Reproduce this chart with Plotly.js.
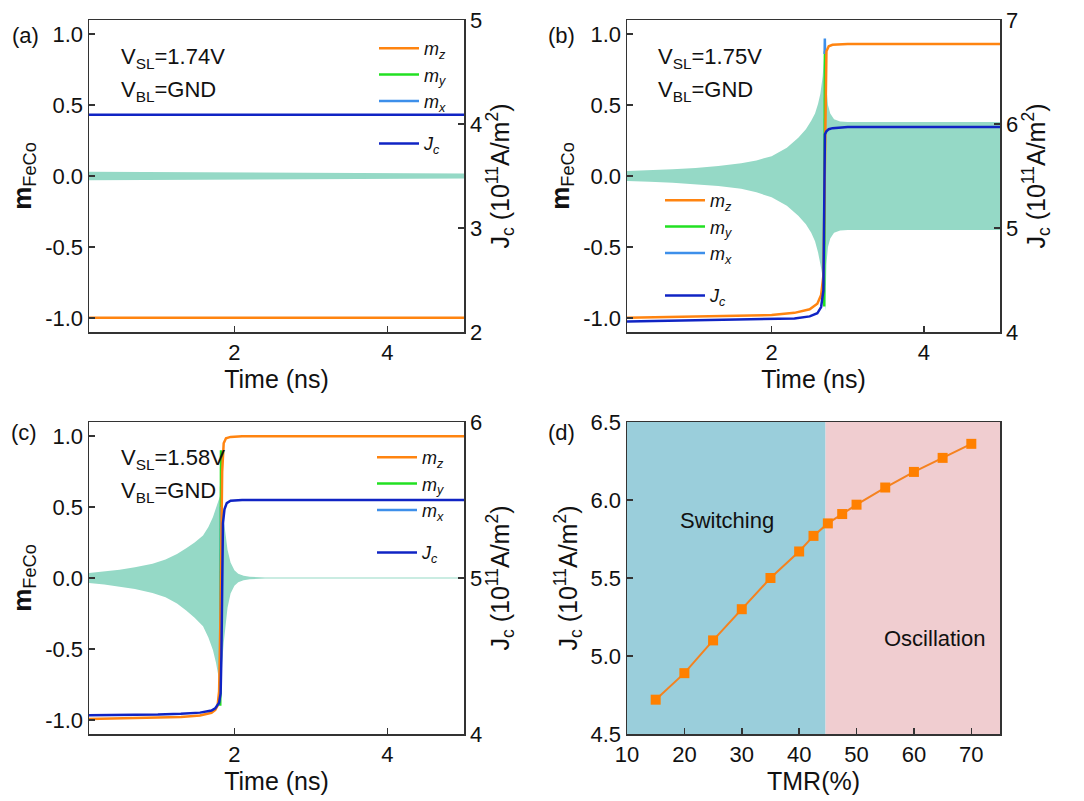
<!DOCTYPE html>
<html>
<head>
<meta charset="utf-8">
<script src="https://cdn.plot.ly/plotly-3.0.1.min.js"></script>
<style>
html,body{margin:0;padding:0;background:#fff;}
#chart{width:1084px;height:801px;}
</style>
</head>
<body>
<div id="chart"></div>
<script>
// ---------- DATA ----------
// Panel (a): V_SL = 1.74 V (no switching)
const aTime = [0.1, 5.0];
const aMz = [-1.0, -1.0];
const aJc = [4.09, 4.09];
const aMy = [0.0, 0.0];
const aMx = [0.0, 0.0];
const aEnvT = [0.1, 1.0, 2.0, 3.0, 4.0, 5.0];
const aEnvUp = [0.03, 0.028, 0.025, 0.022, 0.02, 0.018];
const aEnvLo = [-0.03, -0.028, -0.025, -0.022, -0.02, -0.018];

// Panel (b): V_SL = 1.75 V (switch then oscillation)
const bTime = [0.1, 0.5, 1.0, 1.5, 2.0, 2.3, 2.5, 2.6, 2.65, 2.68, 2.7, 2.72, 2.75, 2.8, 3.0, 4.0, 5.0];
const bMz = [-1.0, -0.995, -0.99, -0.985, -0.98, -0.965, -0.94, -0.9, -0.84, -0.7, 0.1, 0.88, 0.915, 0.925, 0.93, 0.93, 0.93];
const bJc = [4.10, 4.105, 4.11, 4.115, 4.12, 4.13, 4.15, 4.18, 4.24, 4.4, 5.9, 5.93, 5.95, 5.96, 5.97, 5.97, 5.97];
const bEnvT = [0.1, 0.4, 0.7, 1.0, 1.3, 1.6, 1.8, 2.0, 2.2, 2.35, 2.45, 2.52, 2.57, 2.61, 2.64, 2.67, 2.69, 2.705, 2.72, 2.74, 2.77, 2.82, 2.9, 3.0, 5.0];
const bEnvUp = [0.035, 0.04, 0.047, 0.056, 0.07, 0.09, 0.11, 0.14, 0.2, 0.27, 0.33, 0.39, 0.44, 0.51, 0.58, 0.7, 0.82, 0.95, 0.62, 0.5, 0.44, 0.4, 0.385, 0.38, 0.38];
const bEnvLo = [-0.035, -0.04, -0.047, -0.056, -0.07, -0.09, -0.115, -0.15, -0.21, -0.28, -0.34, -0.4, -0.46, -0.54, -0.62, -0.71, -0.85, -0.95, -0.62, -0.5, -0.44, -0.4, -0.385, -0.38, -0.38];
const bMyT = [2.69, 2.695, 2.70];
const bMy = [-0.92, 0.3, 0.88];
const bMxT = [2.696, 2.699, 2.702];
const bMx = [0.86, 0.97, 0.86];

// Panel (c): V_SL = 1.58 V (switching)
const cTime = [0.1, 0.5, 1.0, 1.3, 1.55, 1.7, 1.75, 1.78, 1.8, 1.82, 1.84, 1.86, 1.89, 1.95, 2.1, 3.0, 5.0];
const cMz = [-0.995, -0.99, -0.985, -0.98, -0.97, -0.95, -0.93, -0.9, -0.8, -0.2, 0.75, 0.95, 0.985, 0.995, 1.0, 1.0, 1.0];
const cJcT = [0.1, 0.5, 1.0, 1.3, 1.55, 1.7, 1.75, 1.8, 1.82, 1.83, 1.84, 1.85, 1.87, 1.9, 1.95, 2.1, 3.0, 5.0];
const cJc = [4.12, 4.121, 4.125, 4.13, 4.137, 4.15, 4.165, 4.2, 4.26, 4.5, 5.0, 5.35, 5.44, 5.48, 5.495, 5.5, 5.5, 5.5];
const cEnvT = [0.1, 0.3, 0.5, 0.7, 0.93, 1.1, 1.25, 1.37, 1.48, 1.59, 1.66, 1.72, 1.76, 1.8, 1.825, 1.84, 1.86, 1.88, 1.91, 1.95, 2.0, 2.05, 2.12, 2.2, 2.4, 5.0];
const cEnvUp = [0.035, 0.045, 0.058, 0.075, 0.1, 0.13, 0.17, 0.21, 0.25, 0.3, 0.36, 0.43, 0.49, 0.55, 0.6, 0.5, 0.42, 0.32, 0.2, 0.11, 0.055, 0.03, 0.015, 0.008, 0.004, 0.004];
const cEnvLo = [-0.035, -0.046, -0.06, -0.078, -0.105, -0.135, -0.18, -0.23, -0.28, -0.34, -0.42, -0.51, -0.6, -0.72, -0.88, -0.6, -0.46, -0.34, -0.21, -0.11, -0.055, -0.03, -0.015, -0.008, -0.004, -0.004];
const cMyT = [1.815, 1.82, 1.825];
const cMy = [-0.9, 0.2, 0.9];
const cMxT = [1.818, 1.822, 1.826];
const cMx = [-0.6, 0.0, 0.5];

// Panel (d): Jc vs TMR
const tmr = [15, 20, 25, 30, 35, 40, 42.5, 45, 47.5, 50, 55, 60, 65, 70];
const jcTmr = [4.72, 4.89, 5.10, 5.30, 5.50, 5.67, 5.77, 5.85, 5.91, 5.97, 6.08, 6.18, 6.27, 6.36];
const regionSplit = 44.6;
const regionNames = ["Switching", "Oscillation"];

// tick labels
const mTickVals = [-1, -0.5, 0, 0.5, 1];
const mTickText = ["-1.0", "-0.5", "0.0", "0.5", "1.0"];
const tTickVals = [2, 4];
const dYTickVals = [4.5, 5.0, 5.5, 6.0, 6.5];
const dYTickText = ["4.5", "5.0", "5.5", "6.0", "6.5"];
const dXTickVals = [10, 20, 30, 40, 50, 60, 70];

const panelLabels = ["(a)", "(b)", "(c)", "(d)"];
const vslLabels = ["V<sub>SL</sub>=1.74V", "V<sub>SL</sub>=1.75V", "V<sub>SL</sub>=1.58V"];
const vblLabel = "V<sub>BL</sub>=GND";

// ---------- STYLE ----------
const FONT = "Liberation Sans, Arial, sans-serif";
const C_MZ = "#FF8410", C_MY = "#22E022", C_MX = "#3D8FEA", C_JC = "#1024C4";
const C_ENV = "#95D9C6";
const AX = "#333333";
const W = 1084, H = 801;
const px = v => v / W;
const py = v => 1 - v / H;

function envTrace(t, up, lo, xa, ya) {
  return {
    x: t.concat(t.slice().reverse()),
    y: up.concat(lo.slice().reverse()),
    xaxis: xa, yaxis: ya, type: "scatter", mode: "lines",
    fill: "toself", fillcolor: C_ENV, line: {width: 0, color: C_ENV},
    showlegend: false, hoverinfo: "skip"
  };
}
function line(x, y, xa, ya, color, name, lg, group, rank, width) {
  return {
    x: x, y: y, xaxis: xa, yaxis: ya, type: "scatter", mode: "lines",
    line: {color: color, width: width || 2.5}, name: name || "",
    legend: lg, legendgroup: group, legendrank: rank || 1000, showlegend: !!name
  };
}
const NMZ = "<i>m</i><sub><i>z</i></sub>";
const NMY = "<i>m</i><sub><i>y</i></sub>";
const NMX = "<i>m</i><sub><i>x</i></sub>";
const NJC = "<i>J</i><sub><i>c</i></sub>";

const traces = [
  // (a)
  line(aTime, aMy, "x", "y", C_MY, NMY, "legend", "m", 2),
  line(aTime, aMx, "x", "y", C_MX, NMX, "legend", "m", 3),
  envTrace(aEnvT, aEnvUp, aEnvLo, "x", "y"),
  line(aTime, aMz, "x", "y", C_MZ, NMZ, "legend", "m", 1),
  line(aTime, aJc, "x", "y2", C_JC, NJC, "legend", "j", 4),
  // (b)
  envTrace(bEnvT, bEnvUp, bEnvLo, "x2", "y3"),
  line(bMyT, bMy, "x2", "y3", C_MY, NMY, "legend2", "m", 2),
  line(bMxT, bMx, "x2", "y3", C_MX, NMX, "legend2", "m", 3),
  line(bTime, bMz, "x2", "y3", C_MZ, NMZ, "legend2", "m", 1),
  line(bTime, bJc, "x2", "y4", C_JC, NJC, "legend2", "j", 4),
  // (c)
  envTrace(cEnvT, cEnvUp, cEnvLo, "x3", "y5"),
  line(cMyT, cMy, "x3", "y5", C_MY, NMY, "legend3", "m", 2),
  line(cMxT, cMx, "x3", "y5", C_MX, NMX, "legend3", "m", 3),
  line(cTime, cMz, "x3", "y5", C_MZ, NMZ, "legend3", "m", 1),
  line(cJcT, cJc, "x3", "y6", C_JC, NJC, "legend3", "j", 4),
  // (d)
  {
    x: tmr, y: jcTmr, xaxis: "x4", yaxis: "y7", type: "scatter", mode: "lines+markers",
    line: {color: "#F5821F", width: 2}, marker: {symbol: "square", size: 10, color: "#FF8000"},
    showlegend: false
  }
];

const tickFont = {family: FONT, size: 22, color: "#111"};
const titleFont = {family: FONT, size: 25, color: "#111"};

function xAx(dom, anchor, rng, tv, title) {
  return {
    domain: dom, anchor: anchor, range: rng, tickvals: tv,
    ticks: "inside", ticklen: 6, tickwidth: 1.5, tickcolor: AX,
    showline: true, linecolor: AX, linewidth: 1.5, mirror: true,
    showgrid: false, zeroline: false, tickfont: tickFont,
    title: {text: title, font: titleFont, standoff: 4}
  };
}
function yLeft(dom, anchor, rng, tv, tt, title, mirror, tsize) {
  return {
    domain: dom, anchor: anchor, range: rng, tickvals: tv, ticktext: tt,
    ticks: "inside", ticklen: 6, tickwidth: 1.5, tickcolor: AX,
    showline: true, linecolor: AX, linewidth: 1.5, mirror: mirror,
    showgrid: false, zeroline: false, tickfont: tickFont,
    title: {text: title, font: {family: FONT, size: tsize, color: "#111"}, standoff: 6}
  };
}
function yRight(over, anchor, rng, dt) {
  return {
    overlaying: over, anchor: anchor, side: "right", range: rng, dtick: dt,
    ticks: "inside", ticklen: 6, tickwidth: 1.5, tickcolor: AX,
    showline: true, linecolor: AX, linewidth: 1.5,
    showgrid: false, zeroline: false, tickfont: tickFont,
    title: {text: "J<sub>c</sub> (10<sup>11</sup>A/m<sup>2</sup>)", font: titleFont, standoff: 4}
  };
}

const domL = [px(89), px(464)], domR = [px(627), px(1000)];
const domT = [py(332), py(20)], domB = [py(734), py(422)];
const mTitle = "<b>m</b><sub>FeCo</sub>";
const mRange = [-1.1, 1.1], tRange = [0.1, 5];

const legendCommon = {
  bgcolor: "rgba(0,0,0,0)", borderwidth: 0, xanchor: "left", yanchor: "top",
  font: {family: FONT, size: 18, color: "#111"}, tracegroupgap: 16, itemwidth: 40,
  traceorder: "grouped"
};

const annotations = [];
const labelPos = [[25, 35], [561, 35], [24, 432], [561, 432]];
panelLabels.forEach((t, i) => annotations.push({
  text: t, xref: "paper", yref: "paper", x: px(labelPos[i][0]), y: py(labelPos[i][1]),
  xanchor: "center", yanchor: "middle",
  showarrow: false, font: {family: FONT, size: 22, color: "#111"}
}));
const vPos = [[119, 58], [656, 58], [119, 459]];
vslLabels.forEach((t, i) => {
  annotations.push({text: t, xref: "paper", yref: "paper", x: px(vPos[i][0]), y: py(vPos[i][1]),
    xanchor: "left", yanchor: "middle", showarrow: false, font: {family: FONT, size: 22, color: "#111"}});
  annotations.push({text: vblLabel, xref: "paper", yref: "paper", x: px(vPos[i][0]), y: py(vPos[i][1] + 33),
    xanchor: "left", yanchor: "middle", showarrow: false, font: {family: FONT, size: 22, color: "#111"}});
});
annotations.push({text: regionNames[0], xref: "x4", yref: "y7", x: 27.5, y: 5.87, showarrow: false,
  xanchor: "center", yanchor: "middle", font: {family: FONT, size: 22, color: "#111"}});
annotations.push({text: regionNames[1], xref: "x4", yref: "y7", x: 63.5, y: 5.11, showarrow: false,
  xanchor: "center", yanchor: "middle", font: {family: FONT, size: 22, color: "#111"}});

const layout = {
  width: W, height: H, margin: {l: 0, r: 0, t: 0, b: 0},
  paper_bgcolor: "#ffffff", plot_bgcolor: "rgba(0,0,0,0)",
  font: {family: FONT, color: "#111"},
  xaxis: xAx(domL, "y", tRange, tTickVals, "Time (ns)"),
  yaxis: yLeft(domT, "x", mRange, mTickVals, mTickText, mTitle, false, 26),
  yaxis2: yRight("y", "x", [2, 5], 1),
  xaxis2: xAx(domR, "y3", tRange, tTickVals, "Time (ns)"),
  yaxis3: yLeft(domT, "x2", mRange, mTickVals, mTickText, mTitle, false, 26),
  yaxis4: yRight("y3", "x2", [4, 7], 1),
  xaxis3: xAx(domL, "y5", tRange, tTickVals, "Time (ns)"),
  yaxis5: yLeft(domB, "x3", mRange, mTickVals, mTickText, mTitle, false, 26),
  yaxis6: yRight("y5", "x3", [4, 6], 1),
  xaxis4: xAx(domR, "y7", [10, 75], dXTickVals, "TMR(%)"),
  yaxis7: yLeft(domB, "x4", [4.5, 6.5], dYTickVals, dYTickText, "J<sub>c</sub> (10<sup>11</sup>A/m<sup>2</sup>)", true, 25),
  legend: Object.assign({}, legendCommon, {x: px(374), y: py(30)}),
  legend2: Object.assign({}, legendCommon, {x: px(660), y: py(182)}),
  legend3: Object.assign({}, legendCommon, {x: px(372), y: py(439)}),
  shapes: [
    {type: "rect", xref: "x4", yref: "y7 domain", x0: 10, x1: regionSplit, y0: 0, y1: 1,
     fillcolor: "#9ACEDB", line: {width: 0}, layer: "below"},
    {type: "rect", xref: "x4", yref: "y7 domain", x0: regionSplit, x1: 75, y0: 0, y1: 1,
     fillcolor: "#F0CDD0", line: {width: 0}, layer: "below"}
  ],
  annotations: annotations,
  showlegend: true
};

Plotly.newPlot("chart", traces, layout, {staticPlot: true, displayModeBar: false});
</script>
</body>
</html>
